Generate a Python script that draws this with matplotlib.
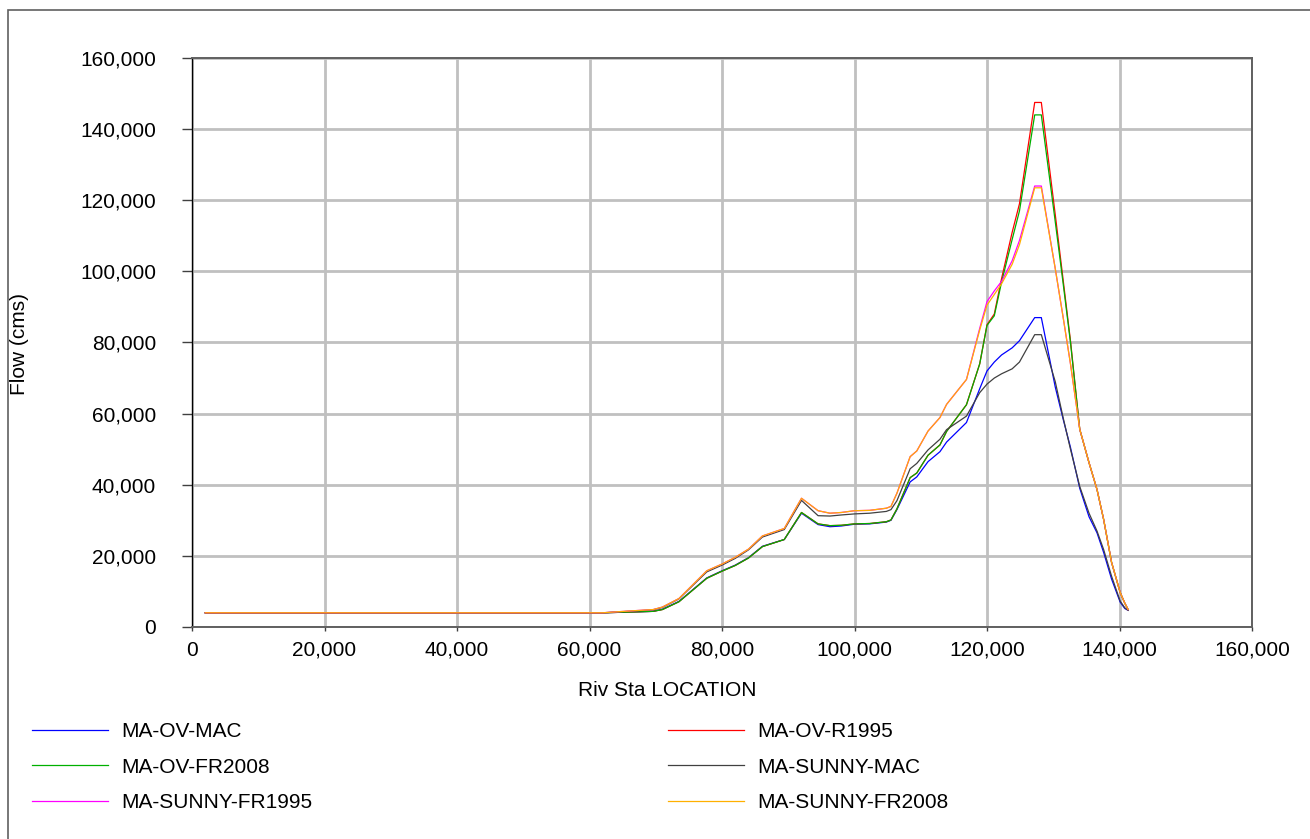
import matplotlib
matplotlib.use("Agg")
import matplotlib.pyplot as plt
from matplotlib.patches import Rectangle
from matplotlib.ticker import FuncFormatter, MultipleLocator

plt.rcParams["font.family"] = ["Liberation Sans", "DejaVu Sans"]

# river stations (shared by all profiles)
stations = [2000, 30000, 62000, 66000, 69600, 71000, 73500, 77700, 80000, 82000,
            84000, 86100, 89400, 92000, 94500, 96300, 98000, 100000, 102300, 104800,
            105500, 106400, 108400, 109400, 111100, 112900, 113900, 116900, 118900, 120000,
            121100, 122200, 123800, 124900, 127200, 128200, 130300, 131500, 132600, 134000,
            135400, 136600, 137600, 138800, 140100, 140800, 141300]

ov_mac = [4000, 4000, 4000, 4200, 4400, 5000, 7200, 13800, 15800, 17400,
          19500, 22700, 24600, 32000, 28800, 28200, 28400, 28900, 29000, 29500,
          30000, 33000, 40800, 42200, 46500, 49300, 52000, 57500, 67000, 72000,
          74500, 76500, 78500, 80500, 87000, 87000, 67500, 58400, 50500, 39000,
          31000, 26500, 21000, 13500, 7000, 5200, 4700]

ov_r1995 = [4000, 4000, 4000, 4200, 4400, 4900, 7100, 13700, 15700, 17300,
            19400, 22600, 24600, 32200, 29000, 28500, 28600, 29000, 29100, 29600,
            30100, 33200, 42000, 43300, 48300, 51200, 55000, 62500, 74000, 85000,
            88000, 98000, 111000, 119000, 147500, 147500, 116000, 97500, 80500, 55600,
            46200, 38700, 30300, 18200, 9700, 6700, 4900]

ov_fr2008 = [4000, 4000, 4000, 4200, 4400, 4900, 7100, 13700, 15700, 17300,
             19400, 22600, 24600, 32200, 29000, 28500, 28600, 29000, 29100, 29600,
             30100, 33200, 42000, 43300, 48300, 51200, 55000, 62500, 74000, 84800,
             87500, 97000, 109000, 117000, 144000, 144000, 114000, 96500, 80000, 55600,
             46200, 38700, 30300, 18200, 9700, 6700, 4900]

sunny_mac = [4000, 4000, 4000, 4400, 4800, 5500, 7900, 15500, 17400, 19300,
             21700, 25300, 27400, 35600, 31300, 31200, 31500, 31800, 32000, 32500,
             33000, 35500, 44500, 46000, 49800, 52800, 55500, 59300, 65900, 68300,
             70000, 71200, 72600, 74500, 82200, 82200, 69000, 58800, 50000, 39500,
             32000, 27000, 21800, 14300, 7300, 5400, 4700]

sunny_fr1995 = [4000, 4000, 4000, 4500, 4900, 5600, 8000, 15800, 17700, 19600,
                21900, 25600, 27700, 36200, 32700, 32000, 32200, 32700, 32800, 33400,
                33900, 37600, 47900, 49500, 55100, 58900, 62600, 69600, 84000, 91500,
                94500, 97200, 103000, 108700, 124000, 124000, 100800, 87000, 74000, 55600,
                46200, 38700, 30300, 18200, 9700, 6700, 4900]

sunny_fr2008 = [4000, 4000, 4000, 4500, 4900, 5600, 8000, 15800, 17700, 19600,
                21900, 25600, 27700, 36200, 32700, 32000, 32200, 32700, 32800, 33400,
                33900, 37600, 47900, 49500, 55100, 58900, 62600, 69600, 83500, 90500,
                93500, 96500, 102000, 107500, 123500, 123500, 100800, 87000, 74000, 55600,
                46200, 38700, 30300, 18200, 9700, 6700, 4900]

series = [
    ("MA-OV-MAC", ov_mac, "#0000FF"),
    ("MA-OV-R1995", ov_r1995, "#FF0000"),
    ("MA-OV-FR2008", ov_fr2008, "#00B000"),
    ("MA-SUNNY-MAC", sunny_mac, "#404040"),
    ("MA-SUNNY-FR1995", sunny_fr1995, "#FF00FF"),
    ("MA-SUNNY-FR2008", sunny_fr2008, "#FFB000"),
]

W, H = 1310, 839
FS = 15
fig = plt.figure(figsize=(W / 100, H / 100), dpi=100)
fig.patch.set_facecolor("white")

ax = fig.add_axes([192 / W, 1 - 627 / H, (1252 - 192) / W, (627 - 58) / H])

lines = {}
for label, values, color in series:
    (ln,) = ax.plot(stations, values, color=color, linewidth=0.9, label=label)
    lines[label] = ln

ax.set_xlim(0, 160000)
ax.set_ylim(0, 160000)
ax.xaxis.set_major_locator(MultipleLocator(20000))
ax.yaxis.set_major_locator(MultipleLocator(20000))
fmt = FuncFormatter(lambda v, _: f"{v:,.0f}")
ax.xaxis.set_major_formatter(fmt)
ax.yaxis.set_major_formatter(fmt)

ax.grid(True, color="#C0C0C0", linewidth=2.0)
ax.set_axisbelow(True)

ax.spines["left"].set_color("black")
ax.spines["left"].set_linewidth(1.0)
for side in ("top", "right", "bottom"):
    ax.spines[side].set_color("#606060")
    ax.spines[side].set_linewidth(1.4)

ax.tick_params(axis="y", direction="out", length=7, width=1, color="#404040",
               labelsize=FS, pad=19)
ax.tick_params(axis="x", direction="out", length=3, width=1, color="#404040",
               labelsize=FS, pad=7)

fig.text(20 / W, 1 - 344 / H, "Flow (cms)", rotation=90, ha="center", va="center",
         fontsize=FS)
fig.text(667 / W, 1 - 690 / H, "Riv Sta LOCATION", ha="center", va="center", fontsize=FS)

col1 = ["MA-OV-MAC", "MA-OV-FR2008", "MA-SUNNY-FR1995"]
col2 = ["MA-OV-R1995", "MA-SUNNY-MAC", "MA-SUNNY-FR2008"]
for names, x0 in ((col1, 32), (col2, 668)):
    fig.legend([lines[n] for n in names], names, loc="upper left",
               bbox_to_anchor=(x0 / W, 1 - 722 / H), frameon=False, fontsize=FS,
               handlelength=3.65, handletextpad=0.62, labelspacing=0.8,
               borderpad=0, borderaxespad=0)

fig.add_artist(Rectangle((8 / W, -0.05), 1.2, 1.05 - 10 / H, transform=fig.transFigure,
                         fill=False, edgecolor="#606060", linewidth=1.2))

fig.savefig("out.png", dpi=100, facecolor="white")
